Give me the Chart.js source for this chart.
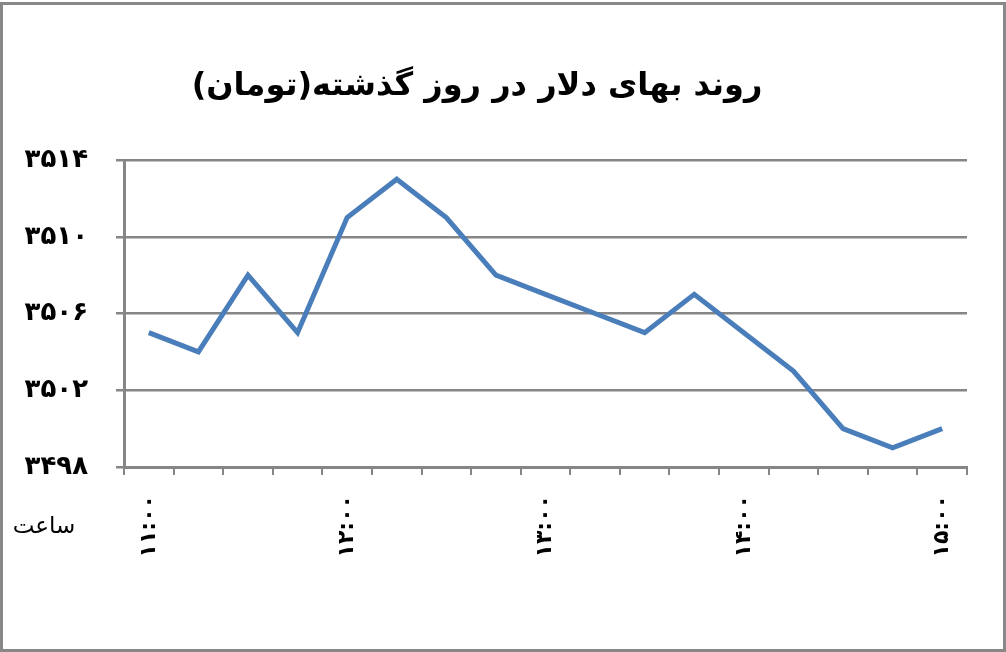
<!DOCTYPE html>
<html lang="fa">
<head>
    <meta charset="UTF-8">
    <title>روند بهای دلار</title>
    <script src="https://cdn.jsdelivr.net/npm/chart.js"></script>
    <style>
        html, body {
            margin: 0;
            padding: 0;
            background: #ffffff;
        }
        .frame {
            position: relative;
            width: 1006px;
            height: 652px;
        }
        .frame .border {
            position: absolute;
            left: 0;
            top: 2px;
            width: 1000px;
            height: 644px;
            border: 3px solid #888888;
            pointer-events: none;
        }
    </style>
</head>
<body>
<div class="frame">
    <canvas id="dollarChart" width="1006" height="652"></canvas>
    <div class="border"></div>
</div>
<script>
    const chartTitle = 'روند بهای دلار در روز گذشته(تومان)';
    const axisLabel = 'ساعت';
    const times = ['۱۱:۰۰', '۱۱:۱۵', '۱۱:۳۰', '۱۱:۴۵', '۱۲:۰۰', '۱۲:۱۵', '۱۲:۳۰', '۱۲:۴۵', '۱۳:۰۰',
                   '۱۳:۱۵', '۱۳:۳۰', '۱۳:۴۵', '۱۴:۰۰', '۱۴:۱۵', '۱۴:۳۰', '۱۴:۴۵', '۱۵:۰۰'];
    const prices = [3505, 3504, 3508, 3505, 3511, 3513, 3511, 3508, 3507, 3506, 3505, 3507, 3505, 3503, 3500, 3499, 3500];
    const yTicks = [3498, 3502, 3506, 3510, 3514];

    const faDigits = '۰۱۲۳۴۵۶۷۸۹';
    const toFa = n => String(n).replace(/\d/g, d => faDigits[d]);

    const FONT = "'DejaVu Sans', sans-serif";
    const GRID = '#868686';

    // title and the "hour" label are painted by hand so they sit where the original has them
    const textPlugin = {
        id: 'texts',
        afterDraw(chart) {
            const ctx = chart.ctx;
            ctx.save();
            ctx.fillStyle = '#000';
            ctx.direction = 'rtl';
            ctx.textBaseline = 'middle';
            ctx.textAlign = 'center';
            ctx.font = 'bold 32px ' + FONT;
            ctx.fillText(chartTitle, 477, 87);
            ctx.font = '23px ' + FONT;
            ctx.fillText(axisLabel, 44, 527);
            ctx.restore();
        }
    };

    new Chart(document.getElementById('dollarChart'), {
        type: 'line',
        data: {
            labels: times,
            datasets: [{
                data: prices,
                borderColor: '#4a7ebb',
                borderWidth: 5,
                pointRadius: 0,
                tension: 0,
                fill: false
            }]
        },
        options: {
            responsive: false,
            animation: false,
            layout: { padding: { top: 160, right: 39, left: 0, bottom: 0 } },
            plugins: {
                legend: { display: false },
                tooltip: { enabled: false },
                title: { display: false }
            },
            scales: {
                x: {
                    offset: true,
                    grid: {
                        offset: true,
                        drawOnChartArea: false,
                        drawTicks: true,
                        tickLength: 8,
                        color: GRID,
                        lineWidth: 2
                    },
                    border: { color: GRID, width: 3 },
                    ticks: {
                        autoSkip: false,
                        minRotation: 90,
                        maxRotation: 90,
                        padding: 20,
                        color: '#000',
                        font: { family: FONT, size: 22, weight: 'bold' },
                        callback: (v, i) => (i % 4 === 0 ? times[i] : '')
                    },
                    afterFit: s => { s.height = 185; }
                },
                y: {
                    min: yTicks[0],
                    max: yTicks[yTicks.length - 1],
                    afterBuildTicks: s => { s.ticks = yTicks.map(v => ({ value: v })); },
                    grid: {
                        color: GRID,
                        lineWidth: 2.5,
                        drawTicks: true,
                        tickLength: 8
                    },
                    border: { color: GRID, width: 3 },
                    ticks: {
                        padding: 28,
                        color: '#000',
                        font: { family: FONT, size: 26, weight: 'bold' },
                        callback: v => toFa(v)
                    },
                    afterFit: s => { s.width = 124; }
                }
            }
        },
        plugins: [textPlugin]
    });
</script>
</body>
</html>
